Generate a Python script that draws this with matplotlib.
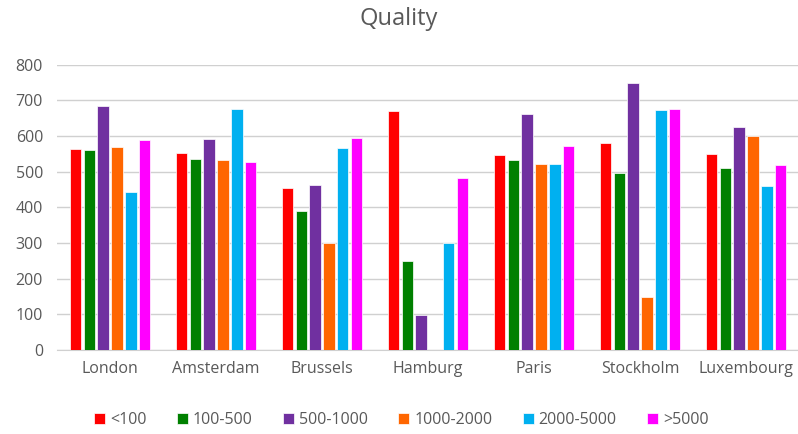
import matplotlib
matplotlib.use("Agg")
import matplotlib.pyplot as plt
import numpy as np

cities = ["London", "Amsterdam", "Brussels", "Hamburg", "Paris", "Stockholm", "Luxembourg"]
series_names = ["<100", "100-500", "500-1000", "1000-2000", "2000-5000", ">5000"]
lt100 = [564, 551, 453, 669, 547, 581, 550]
s100_500 = [562, 536, 391, 250, 532, 497, 509]
s500_1000 = [685, 592, 462, 99, 662, 749, 624]
s1000_2000 = [570, 534, 301, 0, 521, 148, 600]
s2000_5000 = [444, 676, 567, 299, 521, 674, 460]
gt5000 = [589, 527, 595, 481, 571, 677, 519]
yticks = [0, 100, 200, 300, 400, 500, 600, 700, 800]

series = [lt100, s100_500, s500_1000, s1000_2000, s2000_5000, gt5000]
colors = ["#FF0000", "#008000", "#7030A0", "#FF6600", "#00B0F0", "#FF00FF"]

plt.rcParams['font.family'] = ['Open Sans', 'DejaVu Sans']
fig = plt.figure(figsize=(7.98, 4.34), dpi=100)
ax = fig.add_axes([57/798, 1-350/434, 742/798, (350-64.7)/434])

x = np.arange(len(cities))
step = 0.13
width = 0.11
for i, (vals, c, name) in enumerate(zip(series, colors, series_names)):
    ax.bar(x + (i - 2.5) * step, vals, width=width, color=c, label=name,
           edgecolor="white", linewidth=0.5, zorder=3)

ax.set_xlim(-0.5, len(cities) - 0.5)
ax.set_ylim(0, 800)
ax.set_yticks(yticks)
ax.set_xticks(x)
ax.set_xticklabels(cities)
ax.yaxis.grid(True, color="#D0D0D0", linewidth=1, zorder=0)
for s in ["top", "right", "left"]:
    ax.spines[s].set_visible(False)
ax.spines["bottom"].set_color("#D0D0D0")
ax.tick_params(axis="both", length=0, labelsize=11.5, colors="#595959")
ax.tick_params(axis="x", pad=8)
ax.tick_params(axis="y", pad=10)

fig.text(0.5, 1-19/434, "Quality", ha="center", va="center", fontsize=17, color="#595959")

fig.legend(loc="center", bbox_to_anchor=(0.503, 1-420/434), ncol=6, frameon=False,
           fontsize=11.5, handlelength=0.7, handleheight=0.7, handletextpad=0.3,
           columnspacing=1.9, labelcolor="#595959")

fig.savefig("out.png", dpi=100)
